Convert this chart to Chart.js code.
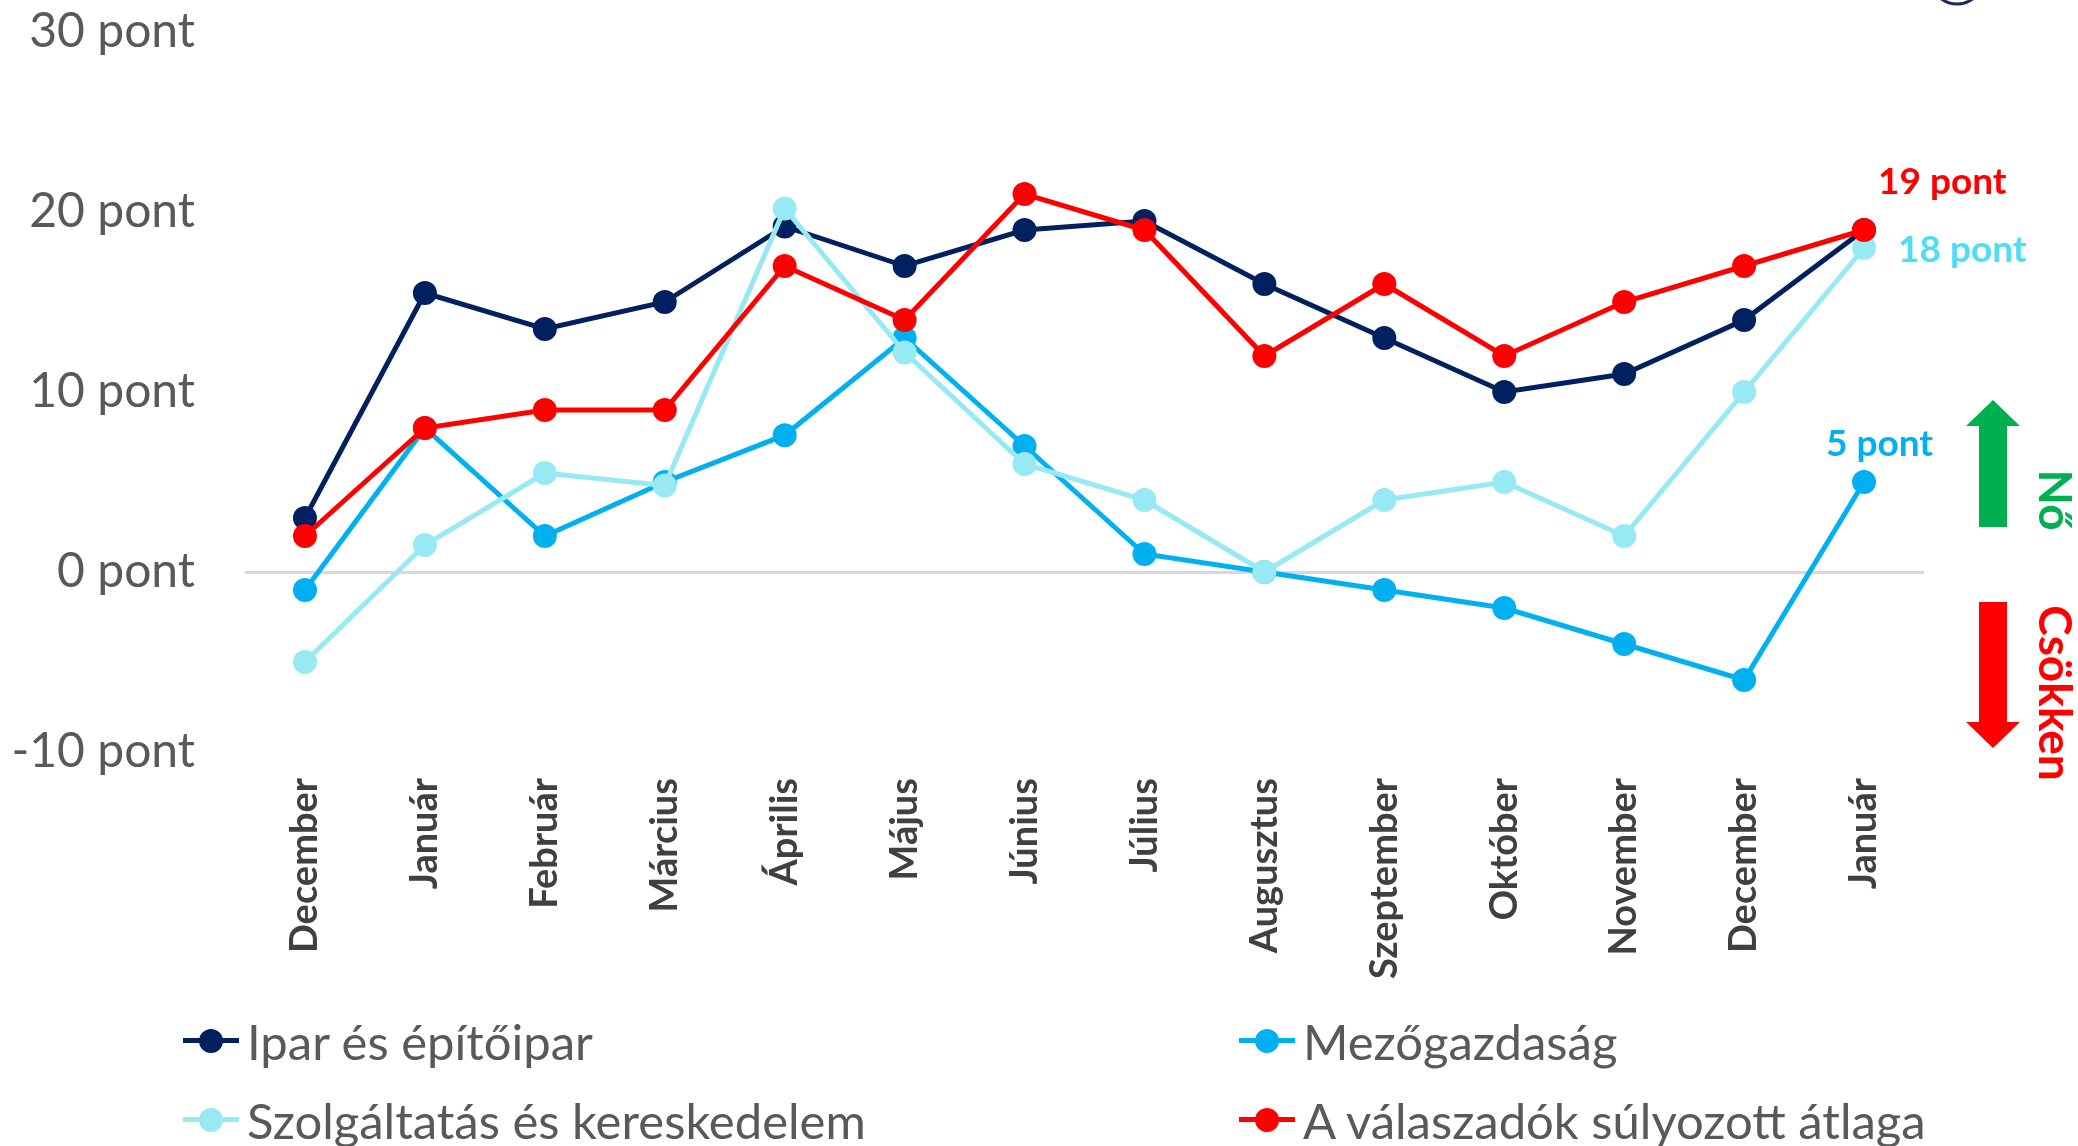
<!DOCTYPE html>
<html>
<head>
<meta charset="utf-8">
<script src="https://cdn.jsdelivr.net/npm/chart.js@4/dist/chart.umd.min.js"></script>
<style>
html, body { margin: 0; padding: 0; background: #fff; }
#wrap { position: relative; width: 2078px; height: 1146px; overflow: hidden; }
#chart { position: absolute; left: 0; top: 0; }
.leg { position: absolute; height: 40px; display: flex; align-items: center; font-family: Lato, sans-serif; font-size: 49px; color: #595959; white-space: nowrap; }
.leg .mk { position: relative; width: 56px; height: 40px; margin-right: 8px; }
.leg .mk .ln { position: absolute; left: 0; top: 17px; width: 56px; height: 5px; }
.leg .mk .dt { position: absolute; left: 16px; top: 8px; width: 24px; height: 24px; border-radius: 50%; }
</style>
</head>
<body>
<div id="wrap">
  <canvas id="chart" width="2078" height="1146"></canvas>
  <div id="legend"></div>
</div>
<script>
// Adatok
const honapok = ["December", "Január", "Február", "Március", "Április", "Május", "Június",
                 "Július", "Augusztus", "Szeptember", "Október", "November", "December", "Január"];

const ipar = [3, 15.5, 13.5, 15, 19.2, 17, 19, 19.5, 16, 13, 10, 11, 14, 19];
const mezogazdasag = [-1, 8, 2, 5, 7.6, 13, 7, 1, 0, -1, -2, -4, -6, 5];
const szolgaltatas = [-5, 1.5, 5.5, 4.8, 20.2, 12.2, 6, 4, 0, 4, 5, 2, 10, 18];
const atlag = [2, 8, 9, 9, 17, 14, 21, 19, 12, 16, 12, 15, 17, 19];

const yTicks = [-10, 0, 10, 20, 30];

const sorozatok = [
    { nev: "Ipar és építőipar", adat: ipar, szin: "#002060", order: 3 },
    { nev: "Mezőgazdaság", adat: mezogazdasag, szin: "#00B0F0", order: 2 },
    { nev: "Szolgáltatás és kereskedelem", adat: szolgaltatas, szin: "#97EAF4", order: 1 },
    { nev: "A válaszadók súlyozott átlaga", adat: atlag, szin: "#FF0000", order: 0 }
];

// Címkék az utolsó pontoknál
const vegCimkek = [
    { ds: 3, szoveg: "19 pont", szin: "#FF0000", dx: 14, dy: -48 },
    { ds: 2, szoveg: "18 pont", szin: "#4FDDF3", dx: 34, dy: 2 },
    { ds: 1, szoveg: "5 pont", szin: "#00B0F0", dx: -38, dy: -38 }
];

const FONT = "Lato, sans-serif";

const extrak = {
    id: 'extrak',
    afterDatasetsDraw(chart) {
        const ctx = chart.ctx;
        ctx.save();

        // végpont címkék
        ctx.font = "bold 37px " + FONT;
        ctx.textBaseline = "middle";
        ctx.textAlign = "left";
        vegCimkek.forEach(c => {
            const meta = chart.getDatasetMeta(c.ds);
            const p = meta.data[meta.data.length - 1];
            ctx.fillStyle = c.szin;
            ctx.fillText(c.szoveg, p.x + c.dx, p.y + c.dy);
        });

        // nyilak
        const ax = 1993;
        ctx.fillStyle = "#00B050";
        ctx.beginPath();
        ctx.moveTo(ax, 400);
        ctx.lineTo(ax + 27, 426);
        ctx.lineTo(ax + 14, 426);
        ctx.lineTo(ax + 14, 527);
        ctx.lineTo(ax - 14, 527);
        ctx.lineTo(ax - 14, 426);
        ctx.lineTo(ax - 27, 426);
        ctx.closePath();
        ctx.fill();

        ctx.fillStyle = "#FF0000";
        ctx.beginPath();
        ctx.moveTo(ax, 748);
        ctx.lineTo(ax + 27, 722);
        ctx.lineTo(ax + 14, 722);
        ctx.lineTo(ax + 14, 602);
        ctx.lineTo(ax - 14, 602);
        ctx.lineTo(ax - 14, 722);
        ctx.lineTo(ax - 27, 722);
        ctx.closePath();
        ctx.fill();

        // függőleges feliratok
        ctx.font = "bold 46px " + FONT;
        ctx.textAlign = "center";
        ctx.textBaseline = "middle";
        ctx.save();
        ctx.translate(2054, 500);
        ctx.rotate(Math.PI / 2);
        ctx.fillStyle = "#00B050";
        ctx.fillText("Nő", 0, 0);
        ctx.restore();
        ctx.save();
        ctx.translate(2054, 693);
        ctx.rotate(Math.PI / 2);
        ctx.fillStyle = "#FF0000";
        ctx.fillText("Csökken", 0, 0);
        ctx.restore();

        // logó alja
        ctx.strokeStyle = "#1F2A5C";
        ctx.lineWidth = 3;
        ctx.beginPath();
        ctx.ellipse(1957, -36, 32, 40, 0, 0, Math.PI);
        ctx.stroke();

        ctx.restore();
    }
};

const chart = new Chart(document.getElementById('chart').getContext('2d'), {
    type: 'line',
    data: {
        labels: honapok,
        datasets: sorozatok.map(s => ({
            label: s.nev,
            data: s.adat,
            borderColor: s.szin,
            backgroundColor: s.szin,
            pointBackgroundColor: s.szin,
            pointBorderColor: s.szin,
            borderWidth: 5,
            pointRadius: 12,
            pointHoverRadius: 12,
            pointBorderWidth: 0,
            tension: 0,
            order: s.order
        }))
    },
    options: {
        responsive: false,
        animation: false,
        devicePixelRatio: 1,
        layout: { padding: { left: 0, right: 154, top: 32, bottom: 144 } },
        plugins: {
            legend: { display: false },
            tooltip: { enabled: false }
        },
        scales: {
            x: {
                offset: true,
                grid: { display: false },
                border: { display: false },
                ticks: {
                    autoSkip: false,
                    minRotation: 90,
                    maxRotation: 90,
                    padding: 18,
                    color: "#404040",
                    font: { family: FONT, size: 38, weight: 'bold' }
                },
                afterFit(scale) { scale.height = 250; }
            },
            y: {
                min: -10,
                max: 30,
                afterBuildTicks(scale) { scale.ticks = yTicks.map(v => ({ value: v })); },
                grid: {
                    drawTicks: false,
                    lineWidth: 3,
                    color: c => (c.tick && c.tick.value === 0) ? "#D9D9D9" : "rgba(0,0,0,0)"
                },
                border: { display: false },
                ticks: {
                    padding: 50,
                    color: "#595959",
                    font: { family: FONT, size: 48 },
                    callback: v => v + " pont"
                },
                afterFit(scale) {
                    scale.width = 245;
                    scale.paddingTop = 0;
                    scale.paddingBottom = 0;
                }
            }
        }
    },
    plugins: [extrak]
});

// Jelmagyarázat két oszlopban
const legPoz = [
    { left: 183, top: 1021 },
    { left: 1239, top: 1021 },
    { left: 183, top: 1100 },
    { left: 1239, top: 1100 }
];
const legendDiv = document.getElementById('legend');
sorozatok.forEach((s, i) => {
    const el = document.createElement('div');
    el.className = 'leg';
    el.style.left = legPoz[i].left + 'px';
    el.style.top = legPoz[i].top + 'px';
    el.innerHTML = '<span class="mk"><span class="ln" style="background:' + s.szin + '"></span>' +
        '<span class="dt" style="background:' + s.szin + '"></span></span><span>' + s.nev + '</span>';
    legendDiv.appendChild(el);
});
</script>
</body>
</html>
